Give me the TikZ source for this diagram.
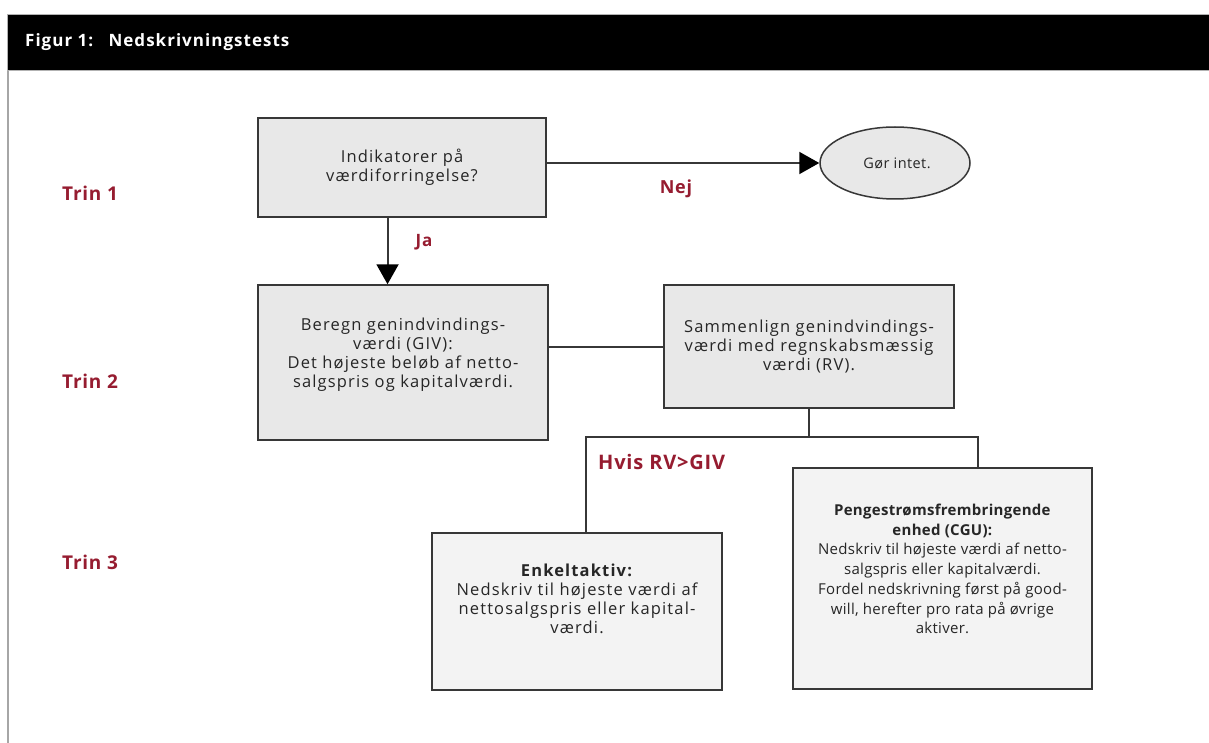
\documentclass[tikz,border=0pt]{standalone}
\usepackage{fontspec}
\setmainfont{Open Sans}
\newfontfamily\boxfont[LetterSpace=7]{Open Sans}
\newfontfamily\cgufont[LetterSpace=2]{Open Sans}
\newfontfamily\ellfont[LetterSpace=3]{Open Sans}
\newfontfamily\hdrfont[LetterSpace=6]{Open Sans}
\newfontfamily\lblfont[LetterSpace=4]{Open Sans}
\usetikzlibrary{shapes.geometric,arrows.meta,calc}
\definecolor{trinred}{RGB}{150,28,48}
\definecolor{boxgray}{RGB}{232,232,232}
\definecolor{boxlight}{RGB}{243,243,243}
\definecolor{linegray}{RGB}{55,55,55}
\tikzset{
  box/.style={draw=linegray, line width=1.5pt, fill=boxgray, inner sep=0pt},
  lightbox/.style={box, fill=boxlight},
  txt/.style={align=center, font=\boxfont\fontsize{16.5}{19}\selectfont, text=black!85, inner sep=0pt},
  cgutxt/.style={align=center, font=\cgufont\fontsize{15}{19.7}\selectfont, text=black!85, inner sep=0pt},
  conn/.style={draw=linegray, line width=2pt},
  redlbl/.style={text=trinred, font=\lblfont\fontsize{18}{21}\selectfont\bfseries, inner sep=0pt},
  trin/.style={text=trinred, font=\lblfont\fontsize{19}{22}\selectfont\bfseries, inner sep=0pt, anchor=west},
  bigarrow/.style={-{Triangle[length=20pt,width=22pt,color=black]}}
}
\begin{document}
\begin{tikzpicture}[x=1pt,y=-1pt]
\useasboundingbox (0,0) rectangle (1209,743);
\fill[white] (0,0) rectangle (1209,743);
% header
\node[fill=black, draw=gray!60, line width=1pt, minimum width=1203pt, minimum height=56pt, anchor=north west, inner sep=0pt] (hdr) at (7,14) {};
\node[anchor=west, text=white, font=\hdrfont\fontsize{17}{19}\selectfont\bfseries, inner sep=0pt] (title) at (25,42) {Figur 1:\hspace{0.9em}Nedskrivningstests};
\draw[gray!70, line width=2pt] (hdr.south west) ++(1,0) -- ++(0,673);
% step labels
\node[trin] (t1) at (62,193) {Trin 1};
\node[trin] (t2) at (62,381) {Trin 2};
\node[trin] (t3) at (62,562) {Trin 3};
% boxes
\node[box, minimum width=288pt, minimum height=99pt] (b1) at (402,167.5) {};
\node[txt] (b1t) at (402,167) {Indikatorer på\\værdiforringelse?};
\node[ellipse, draw=linegray, line width=1.5pt, fill=boxgray, minimum width=150pt, minimum height=72pt, inner sep=0pt] (ell) at (895,163) {};
\node[align=center, font=\ellfont\fontsize{14.5}{19}\selectfont, text=black!85, inner sep=0pt] (ellt) at (897,163) {Gør intet.};
\node[box, minimum width=290pt, minimum height=155pt] (b2) at (403,362.5) {};
\node[txt] (b2t) at (403,355) {Beregn genindvindings-\\værdi (GIV):\\Det højeste beløb af netto-\\salgspris og kapitalværdi.};
\node[box, minimum width=290pt, minimum height=123pt] (b3) at (809,346.5) {};
\node[txt] (b3t) at (809,346.5) {Sammenlign genindvindings-\\værdi med regnskabsmæssig\\værdi (RV).};
\node[lightbox, minimum width=290pt, minimum height=157pt] (b4) at (577,611.5) {};
\node[txt] (b4t) at (577,599) {\textbf{Enkeltaktiv:}\\Nedskriv til højeste værdi af\\nettosalgspris eller kapital-\\værdi.};
\node[lightbox, minimum width=299pt, minimum height=221pt] (b5) at (942.5,578.5) {};
\node[cgutxt] (b5t) at (942.5,569) {\textbf{Pengestrømsfrembringende}\\\textbf{enhed (CGU):}\\Nedskriv til højeste værdi af netto-\\salgspris eller kapitalværdi.\\Fordel nedskrivning først på good-\\will, herefter pro rata på øvrige\\aktiver.};
% connectors
\draw[conn, bigarrow] (ell.west -| b1.east) -- (ell.west);
\node[redlbl] (nej) at (676,189) {Nej};
\coordinate (jastart) at ($(b1.south west)!0.45!(b1.south east)$);
\draw[conn, bigarrow] (jastart) -- (jastart |- b2.north);
\node[redlbl, font=\lblfont\fontsize{17}{20}\selectfont\bfseries] (ja) at (424,242) {Ja};
\draw[conn] (b3.west) -- (b3.west -| b2.east);
\coordinate (hl) at (586,437);
\coordinate (hr) at (978,437);
\draw[conn] (b3.south) -- (b3.south |- hl);
\draw[conn] (b4.north -| hl) -- (hl) -- (hr) -- (hr |- b5.north);
\node[redlbl, anchor=west, font=\lblfont\fontsize{20}{23}\selectfont\bfseries] (hvis) at (598,462) {Hvis RV>GIV};
\end{tikzpicture}
\end{document}
